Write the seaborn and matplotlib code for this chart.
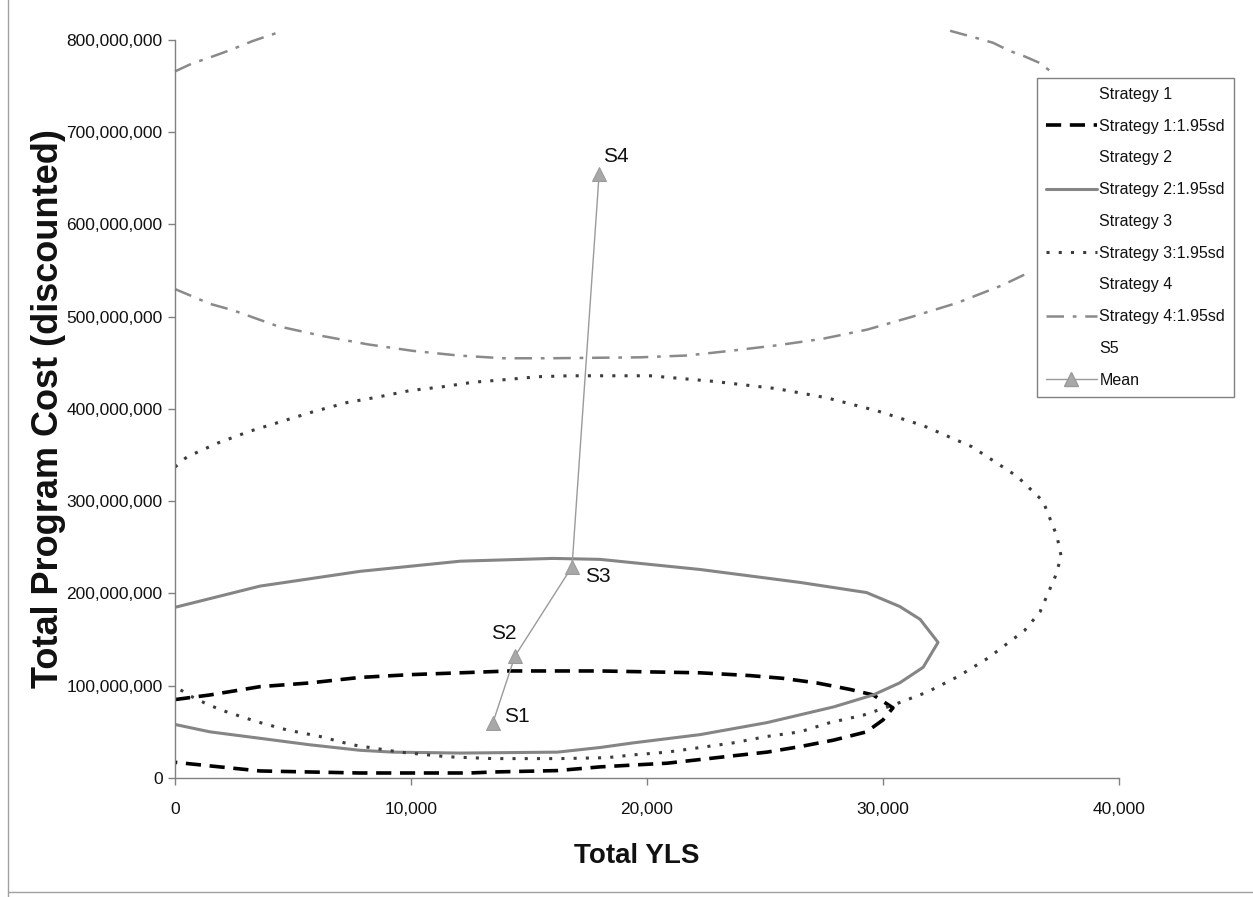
import numpy as np
import pandas as pd
import matplotlib.pyplot as plt
from matplotlib.lines import Line2D
from matplotlib.ticker import FuncFormatter, MultipleLocator
import seaborn as sns

# values (x = Total YLS, y = cost in millions)
s1_x = [0, 1480, 3600, 5700, 7840, 9960, 12080, 14200, 16200, 18000, 20100, 22250, 24360, 25760,
        27200, 28600, 29580, 30420, 30000, 29300, 27900, 26480, 25080, 23640, 22250, 20850, 19400,
        18000, 16200, 13500, 12500, 10700, 7840, 5700, 3600, 1900, 0]
s1_y = [85, 90, 99, 103, 109, 112, 114, 116, 116, 116, 115, 114, 111, 108,
        103, 96, 90, 76, 63, 50, 41, 34, 28, 24, 20, 16, 14,
        12, 8, 6.5, 5.4, 5.4, 5.4, 6.5, 7.6, 12, 17]

s2_x = [0, 3600, 7840, 12080, 16000, 18000, 22250, 26480, 29300, 30700, 31570, 32330, 31700, 30700,
        29580, 27900, 25080, 22250, 19400, 18000, 16200, 12080, 9240, 7840, 5700, 3600, 1480, 0]
s2_y = [185, 208, 224, 235, 238, 237, 226, 212, 201, 186, 172, 147, 120, 103,
        90, 77, 60, 47, 38, 33, 28, 27, 28, 30, 36, 43, 50, 58]

s3_x = [0, 500, 1800, 3180, 4580, 5850, 7290, 8600, 9960, 11310, 12630, 14070, 15380, 16740, 20130,
        22800, 25510, 27630, 29750, 31700, 33770, 35680, 36780, 37370, 37550, 37290, 36650, 36000,
        34450, 33180, 31860, 30420, 29150, 27750, 26480, 25080, 23640, 22250, 20850, 19400, 18300,
        16300, 13470, 11530, 9530, 7500, 6140, 4750, 3470, 2030, 1360, 720, 0]
s3_y = [337, 348, 363, 376, 387, 397, 407, 413, 420, 424, 429, 432, 435, 436, 436,
        430, 422, 412, 398, 382, 359, 327, 300, 262, 240, 218, 180, 160,
        130, 110, 93, 79, 68, 60, 50, 45, 38, 33, 28, 25, 22,
        21, 21, 23, 28, 36, 45, 52, 61, 73, 80, 88, 99]

# strategy 4 ellipse leaves the plot at the top and hides behind the legend
s4_top_left_x = [0, 760, 1360, 2330, 3300, 4580]
s4_top_left_y = [766, 775, 780, 789, 799, 810]
s4_top_right_x = [32840, 33980, 34660, 35380, 35930, 36650, 37200]
s4_top_right_y = [810, 802, 797, 788, 783, 775, 764]
s4_low_x = [0, 1480, 2460, 4320, 6270, 8180, 10080, 11990, 13900, 15890, 19700, 21700, 23520,
            25500, 27420, 29320, 31230, 33140, 35040, 36100]
s4_low_y = [530, 514, 507, 490, 479, 470, 463, 458, 455, 455, 456, 458, 463,
            469, 476, 486, 500, 515, 534, 547]

mean_labels = ["S1", "S2", "S3", "S4"]
mean_x = [13470, 14400, 16820, 17970]
mean_y = [60, 132, 229, 655]

legend_labels = ["Strategy 1", "Strategy 1:1.95sd", "Strategy 2", "Strategy 2:1.95sd",
                 "Strategy 3", "Strategy 3:1.95sd", "Strategy 4", "Strategy 4:1.95sd",
                 "S5", "Mean"]


def curve_frame(xs, ys, seg=0):
    return pd.DataFrame({"x": xs, "y": np.array(ys) * 1e6, "seg": seg})


sns.set_theme(style="white")
plt.rcParams['font.family'] = ['Liberation Sans', 'DejaVu Sans']

fig = plt.figure(figsize=(12.53, 8.97), dpi=100)
ax = fig.add_axes([0.1397, 0.1327, 0.7534, 0.8227])

styles = {
    "s1": dict(color="black", linewidth=2.6, dashes=(4.2, 2.4)),
    "s2": dict(color="#858585", linewidth=2.2),
    "s3": dict(color="#3c3c3c", linewidth=2.2, dashes=(1.0, 3.0)),
    "s4": dict(color="#8a8a8a", linewidth=1.8, dashes=(7, 3.5, 1.5, 3.5)),
}

sns.lineplot(data=curve_frame(s1_x, s1_y), x="x", y="y", sort=False, estimator=None, ax=ax,
             **styles["s1"])
sns.lineplot(data=curve_frame(s2_x, s2_y), x="x", y="y", sort=False, estimator=None, ax=ax,
             **styles["s2"])
sns.lineplot(data=curve_frame(s3_x, s3_y), x="x", y="y", sort=False, estimator=None, ax=ax,
             **styles["s3"])
s4 = pd.concat([curve_frame(s4_top_left_x, s4_top_left_y, 0),
                curve_frame(s4_top_right_x, s4_top_right_y, 1),
                curve_frame(s4_low_x, s4_low_y, 2)])
sns.lineplot(data=s4, x="x", y="y", units="seg", sort=False, estimator=None, ax=ax,
             clip_on=False, **styles["s4"])

mean_df = curve_frame(mean_x, mean_y)
sns.lineplot(data=mean_df, x="x", y="y", sort=False, estimator=None, ax=ax,
             color="#9a9a9a", linewidth=1.0, marker="^", markersize=10,
             markeredgecolor="#9a9a9a", markerfacecolor="#a8a8a8")

offsets = {"S1": (11, 6), "S2": (-24, 23), "S3": (13, -10), "S4": (4, 17)}
for lab, xv, yv in zip(mean_labels, mean_x, mean_y):
    ax.annotate(lab, (xv, yv * 1e6), xytext=offsets[lab], textcoords="offset pixels",
                ha="left", va="center", fontsize=15, color="#111111")

ax.set_xlim(0, 40000)
ax.set_ylim(0, 800e6)
ax.xaxis.set_major_locator(MultipleLocator(10000))
ax.yaxis.set_major_locator(MultipleLocator(100e6))
ax.xaxis.set_major_formatter(FuncFormatter(lambda v, p: f"{v:,.0f}"))
ax.yaxis.set_major_formatter(FuncFormatter(lambda v, p: f"{v:,.0f}"))
ax.tick_params(axis="both", which="major", direction="out", length=5, width=1,
               color="#808080", labelsize=12.5, labelcolor="#111111", bottom=True, left=True)
ax.tick_params(axis="x", pad=12)
ax.tick_params(axis="y", pad=4)
for side in ["top", "right"]:
    ax.spines[side].set_visible(False)
for side in ["left", "bottom"]:
    ax.spines[side].set_color("#808080")
    ax.spines[side].set_linewidth(1.0)

ax.set_xlabel("Total YLS", fontsize=20, fontweight="bold", color="#111111")
ax.set_ylabel("Total Program Cost (discounted)", fontsize=26, fontweight="bold", color="#111111")
ax.xaxis.set_label_coords((637 - 175) / 944, (778 - 843) / 738)
ax.yaxis.set_label_coords((66 - 175) / 944, 0.5)

handles = [
    Line2D([], [], color="none"),
    Line2D([], [], **styles["s1"]),
    Line2D([], [], color="none"),
    Line2D([], [], **styles["s2"]),
    Line2D([], [], color="none"),
    Line2D([], [], **styles["s3"]),
    Line2D([], [], color="none"),
    Line2D([], [], **styles["s4"]),
    Line2D([], [], color="none"),
    Line2D([], [], color="#9a9a9a", linewidth=1.0, marker="^", markersize=10,
           markeredgecolor="#9a9a9a", markerfacecolor="#a8a8a8"),
]
leg = ax.legend(handles, legend_labels, loc="upper left", bbox_to_anchor=(1037 / 1253, 1 - 78 / 897),
                bbox_transform=fig.transFigure, borderaxespad=0, fontsize=11.5, handlelength=3.2,
                handletextpad=0.15, labelspacing=1.05, borderpad=0.55, fancybox=False,
                framealpha=1, edgecolor="#808080")
leg.get_frame().set_linewidth(1.0)
leg.set_zorder(10)
for t in leg.get_texts():
    t.set_color("#111111")

# scanned page border
fig.add_artist(Line2D([8 / 1253, 8 / 1253], [0, 1], transform=fig.transFigure, color="#a0a0a0", lw=1))
fig.add_artist(Line2D([8 / 1253, 1], [1 - 892 / 897] * 2, transform=fig.transFigure, color="#a0a0a0", lw=1))

fig.savefig("out.png", dpi=100)
